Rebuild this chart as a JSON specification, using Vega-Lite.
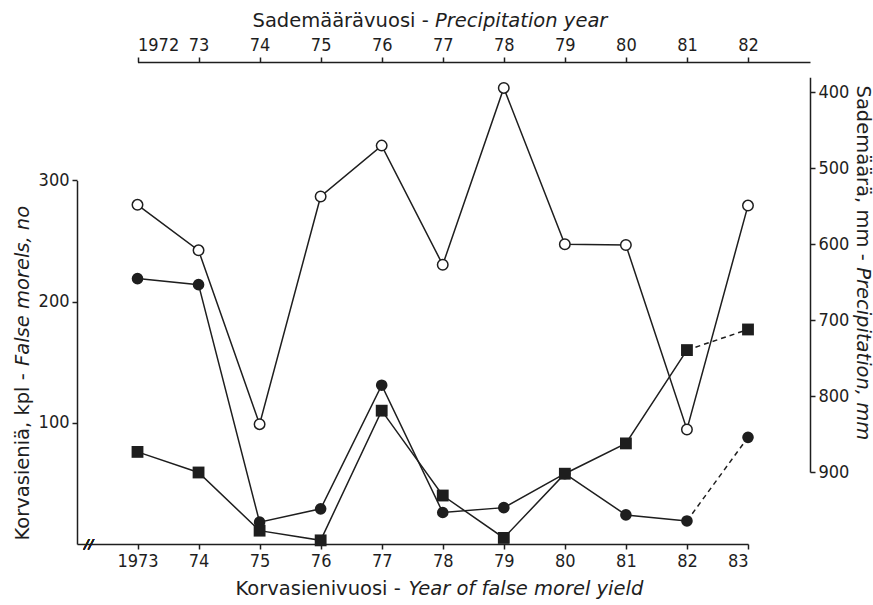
{
  "$schema": "https://vega.github.io/schema/vega-lite/v6.json",
  "width": 733,
  "height": 482,
  "autosize": {"type": "none"},
  "padding": {"left": 77, "top": 62, "right": 63, "bottom": 61},
  "background": "white",
  "config": {
    "view": {"stroke": null},
    "axis": {
      "labelFont": "DejaVu Sans Condensed, Liberation Sans Narrow, DejaVu Sans",
      "titleFont": "DejaVu Sans",
      "labelFontSize": 18,
      "titleFontSize": 19.5,
      "titleFontWeight": "normal",
      "labelColor": "#1e1e1e",
      "titleColor": "#1e1e1e",
      "domainColor": "#1e1e1e",
      "tickColor": "#1e1e1e",
      "domainWidth": 1.5,
      "tickWidth": 1.5,
      "tickSize": 5,
      "grid": false,
      "labelPadding": 3
    }
  },
  "data": {
    "values": [
      {"year": 1973, "precipYear": 1972, "precip": 548, "circles": 219, "squares": 76},
      {"year": 1974, "precipYear": 1973, "precip": 608, "circles": 214, "squares": 59},
      {"year": 1975, "precipYear": 1974, "precip": 837, "circles": 18, "squares": 11},
      {"year": 1976, "precipYear": 1975, "precip": 537, "circles": 29, "squares": 3},
      {"year": 1977, "precipYear": 1976, "precip": 470, "circles": 131, "squares": 110},
      {"year": 1978, "precipYear": 1977, "precip": 627, "circles": 26, "squares": 40},
      {"year": 1979, "precipYear": 1978, "precip": 394, "circles": 30, "squares": 5},
      {"year": 1980, "precipYear": 1979, "precip": 600, "circles": 58, "squares": 58},
      {"year": 1981, "precipYear": 1980, "precip": 601, "circles": 24, "squares": 83},
      {"year": 1982, "precipYear": 1981, "precip": 844, "circles": 19, "squares": 160},
      {"year": 1983, "precipYear": 1982, "precip": 549, "circles": 88, "squares": 177}
    ]
  },
  "resolve": {"scale": {"x": "independent", "y": "independent"}, "axis": {"x": "independent", "y": "independent"}},
  "layer": [
    {
      "mark": {"type": "line", "color": "#1e1e1e", "strokeWidth": 1.5},
      "encoding": {
        "x": {"field": "precipYear", "type": "quantitative",
          "scale": {"domain": [1972, 1983.016], "range": [60.5, 733], "nice": false, "zero": false},
          "axis": {"orient": "top", "values": [1972, 1973, 1974, 1975, 1976, 1977, 1978, 1979, 1980, 1981, 1982], "format": "d",
            "labelExpr": "datum.value == 1972 ? datum.label : slice(datum.label, 2)",
            "title": "Sademäärävuosi -", "titleX": 175, "titleY": -42, "titleAlign": "left", "titleBaseline": "middle", "titleAngle": 0}},
        "y": {"field": "precip", "type": "quantitative",
          "scale": {"domain": [380, 900], "range": [15.3, 410], "nice": false, "zero": false},
          "axis": {"orient": "right", "values": [400, 500, 600, 700, 800, 900], "format": "d",
            "title": "Sademäärä, mm -", "titleX": 52, "titleY": 23, "titleAlign": "left", "titleBaseline": "middle", "titleAngle": 90}}
      }
    },
    {
      "transform": [{"filter": "datum.year <= 1982"}],
      "mark": {"type": "line", "color": "#1e1e1e", "strokeWidth": 1.5},
      "encoding": {
        "x": {"field": "year", "type": "quantitative",
          "scale": {"domain": [1972.009, 1983], "range": [0, 671], "nice": false, "zero": false},
          "axis": {"orient": "bottom", "values": [1973, 1974, 1975, 1976, 1977, 1978, 1979, 1980, 1981, 1982, 1983], "format": "d",
            "labelExpr": "datum.value == 1973 ? datum.label : slice(datum.label, 2)",
            "title": "Korvasienivuosi -", "titleX": 158, "titleY": 44, "titleAlign": "left", "titleBaseline": "middle", "titleAngle": 0}},
        "y": {"field": "circles", "type": "quantitative",
          "scale": {"domain": [0, 300], "range": [482, 118.4], "nice": false, "zero": false},
          "axis": {"orient": "left", "values": [100, 200, 300], "format": "d",
            "title": "Korvasieniä, kpl -", "titleX": -55, "titleY": 478, "titleAlign": "left", "titleBaseline": "middle", "titleAngle": 270}}
      }
    },
    {
      "transform": [{"filter": "datum.year >= 1982"}],
      "mark": {"type": "line", "color": "#1e1e1e", "strokeWidth": 1.5, "strokeDash": [5, 4]},
      "encoding": {
        "x": {"field": "year", "type": "quantitative", "scale": {"domain": [1972.009, 1983], "range": [0, 671], "nice": false, "zero": false}, "axis": null},
        "y": {"field": "circles", "type": "quantitative", "scale": {"domain": [0, 300], "range": [482, 118.4], "nice": false, "zero": false}, "axis": null}
      }
    },
    {
      "transform": [{"filter": "datum.year <= 1982"}],
      "mark": {"type": "line", "color": "#1e1e1e", "strokeWidth": 1.5},
      "encoding": {
        "x": {"field": "year", "type": "quantitative", "scale": {"domain": [1972.009, 1983], "range": [0, 671], "nice": false, "zero": false}, "axis": null},
        "y": {"field": "squares", "type": "quantitative", "scale": {"domain": [0, 300], "range": [482, 118.4], "nice": false, "zero": false}, "axis": null}
      }
    },
    {
      "transform": [{"filter": "datum.year >= 1982"}],
      "mark": {"type": "line", "color": "#1e1e1e", "strokeWidth": 1.5, "strokeDash": [5, 4]},
      "encoding": {
        "x": {"field": "year", "type": "quantitative", "scale": {"domain": [1972.009, 1983], "range": [0, 671], "nice": false, "zero": false}, "axis": null},
        "y": {"field": "squares", "type": "quantitative", "scale": {"domain": [0, 300], "range": [482, 118.4], "nice": false, "zero": false}, "axis": null}
      }
    },
    {
      "mark": {"type": "point", "shape": "circle", "filled": true, "color": "#1e1e1e", "size": 135, "opacity": 1},
      "encoding": {
        "x": {"field": "year", "type": "quantitative", "scale": {"domain": [1972.009, 1983], "range": [0, 671], "nice": false, "zero": false},
          "axis": {"orient": "bottom", "domain": false, "ticks": false, "labels": false,
            "title": "Year of false morel yield", "titleFontStyle": "italic", "titleX": 331, "titleY": 44, "titleAlign": "left", "titleBaseline": "middle", "titleAngle": 0}},
        "y": {"field": "circles", "type": "quantitative", "scale": {"domain": [0, 300], "range": [482, 118.4], "nice": false, "zero": false},
          "axis": {"orient": "left", "domain": false, "ticks": false, "labels": false,
            "title": "False morels, no", "titleFontStyle": "italic", "titleX": -55, "titleY": 303.5, "titleAlign": "left", "titleBaseline": "middle", "titleAngle": 270}}
      }
    },
    {
      "mark": {"type": "point", "shape": "square", "filled": true, "color": "#1e1e1e", "size": 140, "opacity": 1},
      "encoding": {
        "x": {"field": "year", "type": "quantitative", "scale": {"domain": [1972.009, 1983], "range": [0, 671], "nice": false, "zero": false}, "axis": null},
        "y": {"field": "squares", "type": "quantitative", "scale": {"domain": [0, 300], "range": [482, 118.4], "nice": false, "zero": false}, "axis": null}
      }
    },
    {
      "mark": {"type": "point", "shape": "circle", "filled": true, "fill": "white", "stroke": "#1e1e1e", "strokeWidth": 1.5, "size": 110, "opacity": 1},
      "encoding": {
        "x": {"field": "precipYear", "type": "quantitative", "scale": {"domain": [1972, 1983.016], "range": [60.5, 733], "nice": false, "zero": false},
          "axis": {"orient": "top", "domain": false, "ticks": false, "labels": false,
            "title": "Precipitation year", "titleFontStyle": "italic", "titleX": 357.5, "titleY": -42, "titleAlign": "left", "titleBaseline": "middle", "titleAngle": 0}},
        "y": {"field": "precip", "type": "quantitative", "scale": {"domain": [380, 900], "range": [15.3, 410], "nice": false, "zero": false},
          "axis": {"orient": "right", "domain": false, "ticks": false, "labels": false,
            "title": "Precipitation, mm", "titleFontStyle": "italic", "titleX": 52, "titleY": 204.7, "titleAlign": "left", "titleBaseline": "middle", "titleAngle": 90}}
      }
    },
    {
      "mark": {"type": "text", "text": "//", "fontSize": 13, "fontStyle": "italic", "color": "#1e1e1e", "align": "center", "baseline": "middle", "font": "DejaVu Sans"},
      "encoding": {
        "x": {"datum": 1972.2, "type": "quantitative", "scale": {"domain": [1972.009, 1983], "range": [0, 671], "nice": false, "zero": false}, "axis": null},
        "y": {"datum": 0, "type": "quantitative", "scale": {"domain": [0, 300], "range": [482, 118.4], "nice": false, "zero": false}, "axis": null}
      }
    }
  ]
}
